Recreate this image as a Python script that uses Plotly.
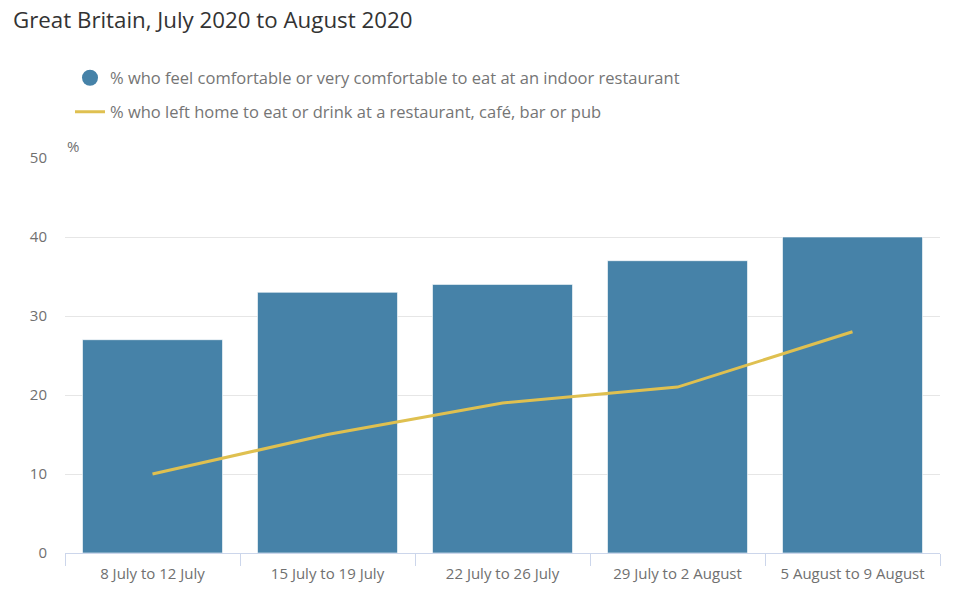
import plotly.graph_objects as go

categories = ["8 July to 12 July", "15 July to 19 July", "22 July to 26 July",
              "29 July to 2 August", "5 August to 9 August"]
comfortable = [27, 33, 34, 37, 40]
left_home = [10, 15, 19, 21, 28]
y_ticks = [0, 10, 20, 30, 40, 50]

bar_name = "% who feel comfortable or very comfortable to eat at an indoor restaurant"
line_name = "% who left home to eat or drink at a restaurant, café, bar or pub"

BAR = "#4682a8"
LINE = "#dfc050"
GREY = "#707070"
FONT = "Open Sans"

fig = go.Figure()
fig.add_trace(go.Bar(x=categories, y=comfortable, name=bar_name, marker_color=BAR,
                     marker_line=dict(color="rgba(255,255,255,0.6)", width=1),
                     showlegend=False))
fig.add_trace(go.Scatter(x=categories, y=left_home, mode="lines", name=line_name,
                         line=dict(color=LINE, width=3), legend="legend2"))
# legend proxy for the bar series (circle symbol)
fig.add_trace(go.Scatter(x=[None], y=[None], mode="markers", name=bar_name,
                         marker=dict(color=BAR, size=17, symbol="circle"), legend="legend"))

legend_common = dict(font=dict(family=FONT, size=16.5, color="#757575"), bgcolor="rgba(0,0,0,0)",
                     xref="container", yref="container", xanchor="left", yanchor="middle",
                     itemwidth=30)
fig.update_layout(
    width=960, height=607,
    margin=dict(l=65, r=20, t=158, b=54, autoexpand=False),
    paper_bgcolor="white", plot_bgcolor="white",
    font=dict(family=FONT, color=GREY, size=15),
    title=dict(text="Great Britain, July 2020 to August 2020", x=13/960, xanchor="left",
               xref="container", yref="container", y=1-20/607, yanchor="middle",
               font=dict(family=FONT, size=22.3, color="#333333")),
    bargap=0.2,
    legend=dict(x=70/960, y=1-78/607, **legend_common),
    legend2=dict(x=70/960, y=1-112/607, **legend_common),
    xaxis=dict(showgrid=False, showline=True, linecolor="#ccd6eb", linewidth=1,
               ticks="outside", tickson="boundaries", ticklen=12, tickcolor="#ccd6eb",
               tickangle=0, automargin=False, ticklabelstandoff=7,
               tickfont=dict(family=FONT, size=15, color=GREY)),
    yaxis=dict(range=[0, 50], tickvals=y_ticks, showgrid=True, gridcolor="#e6e6e6",
               gridwidth=1, zeroline=False, showline=False, ticks="", automargin=False,
               tickfont=dict(family=FONT, size=15, color=GREY), ticklabelstandoff=17),
    annotations=[dict(text="%", xref="paper", yref="paper", x=0, y=1, xanchor="left",
                      yanchor="bottom", showarrow=False, yshift=0,
                      font=dict(family=FONT, size=15, color=GREY))],
)

fig.write_html("out.html")
